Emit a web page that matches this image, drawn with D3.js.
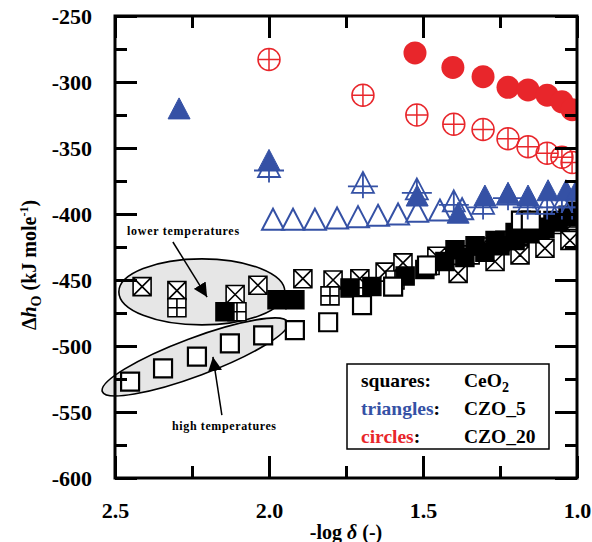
<!DOCTYPE html>
<html>
<head>
<meta charset="utf-8">
<script src="https://cdn.jsdelivr.net/npm/d3@7"></script>
<style>
  html, body { margin: 0; padding: 0; background: #fff; }
  svg text { font-family: "Liberation Serif", "Times New Roman", Times, serif !important; }
</style>
</head>
<body>
<svg id="chart" width="592" height="542"></svg>
<script>
// ---------------- data ----------------
const xMajorTicks = [2.5, 2.0, 1.5, 1.0];
const xMinorTicks = [2.25, 1.75, 1.25];
const yMajorTicks = [-600, -550, -500, -450, -400, -350, -300, -250];
const yMinorTicks = [-575, -525, -475, -425, -375, -325, -275];

// circles: CZO_20
const circFilledX = [1.526, 1.403, 1.305, 1.224, 1.159, 1.097, 1.049, 1.016];
const circFilledY = [-278, -289, -296, -304, -306, -310, -315, -321];
const circCrossX = [2.0, 1.695, 1.52, 1.40, 1.305, 1.224, 1.159, 1.097, 1.049, 1.016];
const circCrossY = [-283, -310, -325, -332, -336, -343, -349, -354, -357, -361];

// triangles: CZO_5
const triFilledX = [2.292, 2.0, 1.519, 1.386, 1.299, 1.224, 1.159, 1.094, 1.036, 1.0];
const triFilledY = [-320, -359, -386, -399, -386, -384, -386, -382, -382, -381];
const triCrossX = [2.0, 1.695, 1.52, 1.40, 1.305, 1.224, 1.16, 1.097, 1.049, 1.016];
const triCrossY = [-364, -376, -381, -390, -392, -385, -392, -392, -392, -392];
const triOpenX = [1.987, 1.922, 1.851, 1.779, 1.711, 1.646, 1.581, 1.519, 1.445, 1.373];
const triOpenY = [-404, -404, -404, -403, -402, -401, -400, -398, -397, -396];

// squares: CeO2
const sqOpenX = [2.451, 2.344, 2.234, 2.127, 2.019, 1.916, 1.808, 1.698, 1.597, 1.487, 1.182, 1.150];
const sqOpenY = [-527, -517, -508, -498, -492, -488, -482, -469, -455, -439, -405, -405];
const sqCrossX = [2.412, 2.299, 2.110, 2.036, 1.890, 1.792, 1.705, 1.623, 1.565, 1.455, 1.315, 1.25, 1.185, 1.12, 1.055, 1.006,
                  1.386, 1.266, 1.185, 1.104, 1.023];
const sqCrossY = [-455, -458, -461, -454, -449, -450, -449, -444, -437, -432, -425, -421, -416, -412, -408, -405,
                  -445, -436, -431, -426, -420];
const sqPlusX = [2.299, 2.104, 1.802, 1.591, 1.477, 1.347, 1.234, 1.12, 1.023];
const sqPlusY = [-471, -474, -462, -450, -439, -431, -420, -411, -403];
const sqFilledX = [2.143, 1.974, 1.916, 1.737, 1.666, 1.558, 1.494, 1.429, 1.364, 1.299, 1.25, 1.201, 1.153, 1.104, 1.062, 1.023,
                   1.396, 1.331, 1.266, 1.201, 1.136, 1.078, 1.029, 1.0];
const sqFilledY = [-474, -465, -465, -456, -455, -447, -442, -436, -433, -429, -424, -420, -415, -411, -406, -402,
                   -427, -424, -420, -414, -410, -405, -401, -398];

const legendLabels = ["squares", "triangles", "circles"];
const legendSamples = ["CeO", "CZO_5", "CZO_20"];

// ---------------- setup ----------------
const FONT = "'Liberation Serif', 'Times New Roman', Times, serif";
const RED = "#e8262b", BLUE = "#3551a5", BLACK = "#000";
const svg = d3.select("#chart");
const L = 115, R = 577, T = 16, B = 478;
const x = d3.scaleLinear().domain([2.5, 1.0]).range([L, R]);
const y = d3.scaleLinear().domain([-600, -250]).range([B, T]);

const defs = svg.append("defs");
defs.append("clipPath").attr("id", "plotclip")
  .append("rect").attr("x", L).attr("y", T).attr("width", R - L).attr("height", B - T);
defs.append("marker").attr("id", "ah")
  .attr("viewBox", "0 0 10 10").attr("refX", 10).attr("refY", 5)
  .attr("markerWidth", 14).attr("markerHeight", 14).attr("markerUnits", "userSpaceOnUse")
  .attr("orient", "auto")
  .append("path").attr("d", "M0,0L10,5L0,10Z").attr("fill", "#000");

// ---------------- annotations (behind markers) ----------------
const ann = svg.append("g");
ann.append("ellipse")
  .attr("cx", x(2.218)).attr("cy", y(-459)).attr("rx", 83).attr("ry", 33)
  .attr("fill", "#e6e6e6").attr("stroke", "#000").attr("stroke-width", 1.6);
ann.append("ellipse")
  .attr("transform", `translate(${x(2.24)},${y(-508.3)}) rotate(-20.5)`)
  .attr("rx", 99).attr("ry", 19)
  .attr("fill", "#e6e6e6").attr("stroke", "#000").attr("stroke-width", 1.6);

// ---------------- markers ----------------
const plot = svg.append("g").attr("clip-path", "url(#plotclip)");
const pts = (xs, ys) => xs.map((v, i) => [v, ys[i]]);

function drawSet(data, d, style) {
  const sel = plot.append("g").selectAll("path").data(data).join("path")
    .attr("transform", p => `translate(${x(p[0])},${y(p[1])})`)
    .attr("d", d);
  Object.entries(style).forEach(([k, v]) => sel.attr(k, v));
}
const h = 9;
const sq = `M${-h},${-h}H${h}V${h}H${-h}Z`;
const sqX = sq + `M${-h},${-h}L${h},${h}M${h},${-h}L${-h},${h}`;
const sqP = sq + `M0,${-h}V${h}M${-h},0H${h}`;
const tri = "M0,-10.5L11,10.5L-11,10.5Z";
const triC = tri + "M-15,4H15M0,-10.5V16";
const cr = 11;
const circ = `M${cr},0A${cr},${cr} 0 1,1 ${-cr},0A${cr},${cr} 0 1,1 ${cr},0Z`;
const circC = circ + `M${-cr},0H${cr}M0,${-cr}V${cr}`;
const cf = 11.5;
const circF = `M${cf},0A${cf},${cf} 0 1,1 ${-cf},0A${cf},${cf} 0 1,1 ${cf},0Z`;

// squares
drawSet(pts(sqCrossX, sqCrossY), sqX, {fill: "#fff", stroke: BLACK, "stroke-width": 1.6});
drawSet(pts(sqPlusX, sqPlusY), sqP, {fill: "#fff", stroke: BLACK, "stroke-width": 1.6});
drawSet(pts(sqFilledX, sqFilledY), sq, {fill: BLACK, stroke: BLACK, "stroke-width": 1.5});
drawSet(pts(sqOpenX, sqOpenY), sq, {fill: "#fff", stroke: BLACK, "stroke-width": 2.2});
// triangles
drawSet(pts(triOpenX, triOpenY), tri, {fill: "#fff", stroke: BLUE, "stroke-width": 2});
drawSet(pts(triCrossX, triCrossY), triC, {fill: "none", stroke: BLUE, "stroke-width": 1.8});
drawSet(pts(triFilledX, triFilledY), tri, {fill: BLUE, stroke: BLUE, "stroke-width": 1});
// circles
drawSet(pts(circCrossX, circCrossY), circC, {fill: "none", stroke: RED, "stroke-width": 1.5});
drawSet(pts(circFilledX, circFilledY), circF, {fill: RED, stroke: "none"});

// arrows + labels
const annTop = svg.append("g");
annTop.append("line")
  .attr("x1", x(2.312)).attr("y1", y(-421.2)).attr("x2", x(2.201)).attr("y2", y(-462.9))
  .attr("stroke", "#000").attr("stroke-width", 1.5).attr("marker-end", "url(#ah)");
annTop.append("line")
  .attr("x1", x(2.153)).attr("y1", y(-552.3)).attr("x2", x(2.182)).attr("y2", y(-508.3))
  .attr("stroke", "#000").attr("stroke-width", 1.5).attr("marker-end", "url(#ah)");
annTop.append("text").attr("x", x(2.279)).attr("y", y(-412.9) + 4)
  .attr("font-family", FONT)
  .attr("text-anchor", "middle").attr("font-size", 12).attr("font-weight", "bold")
  .attr("textLength", 112).attr("lengthAdjust", "spacing")
  .text("lower temperatures");
annTop.append("text").attr("x", x(2.146)).attr("y", y(-560.6) + 4)
  .attr("font-family", FONT)
  .attr("text-anchor", "middle").attr("font-size", 12).attr("font-weight", "bold")
  .attr("textLength", 104).attr("lengthAdjust", "spacing")
  .text("high temperatures");

// ---------------- axes ----------------
const axG = svg.append("g");
function styleAxis(g) {
  g.attr("font-family", FONT);
  g.select(".domain").remove();
  g.selectAll(".tick line").attr("stroke", "#000").attr("stroke-width", 3);
}
const fmtY = d => String(d);
const fmtX = d => d.toFixed(1);
axG.append("g").attr("transform", `translate(0,${B})`)
  .call(d3.axisBottom(x).tickValues(xMajorTicks).tickSize(-22).tickPadding(24).tickFormat(fmtX))
  .call(styleAxis);
axG.append("g").attr("transform", `translate(0,${B})`)
  .call(d3.axisBottom(x).tickValues(xMinorTicks).tickSize(-12).tickFormat(""))
  .call(styleAxis);
axG.append("g").attr("transform", `translate(0,${T})`)
  .call(d3.axisTop(x).tickValues(xMajorTicks).tickSize(-22).tickFormat(""))
  .call(styleAxis);
axG.append("g").attr("transform", `translate(0,${T})`)
  .call(d3.axisTop(x).tickValues(xMinorTicks).tickSize(-12).tickFormat(""))
  .call(styleAxis);
axG.append("g").attr("transform", `translate(${L},0)`)
  .call(d3.axisLeft(y).tickValues(yMajorTicks).tickSize(-22).tickPadding(23).tickFormat(fmtY))
  .call(styleAxis);
axG.append("g").attr("transform", `translate(${L},0)`)
  .call(d3.axisLeft(y).tickValues(yMinorTicks).tickSize(-12).tickFormat(""))
  .call(styleAxis);
axG.append("g").attr("transform", `translate(${R},0)`)
  .call(d3.axisRight(y).tickValues(yMajorTicks).tickSize(-22).tickFormat(""))
  .call(styleAxis);
axG.append("g").attr("transform", `translate(${R},0)`)
  .call(d3.axisRight(y).tickValues(yMinorTicks).tickSize(-12).tickFormat(""))
  .call(styleAxis);
axG.selectAll(".tick text")
  .attr("font-family", FONT)
  .attr("font-size", 22).attr("font-weight", "bold").attr("fill", "#000");

axG.append("rect").attr("x", L).attr("y", T).attr("width", R - L).attr("height", B - T)
  .attr("fill", "none").attr("stroke", "#000").attr("stroke-width", 3);

// axis titles
const xt = svg.append("text").attr("x", 346).attr("y", 539).attr("font-family", FONT)
  .attr("text-anchor", "middle").attr("font-size", 20).attr("font-weight", "bold");
xt.append("tspan").text("-log ");
xt.append("tspan").attr("font-style", "italic").text("δ");
xt.append("tspan").text(" (-)");

const yt = svg.append("text").attr("transform", "translate(36,265) rotate(-90)").attr("font-family", FONT)
  .attr("text-anchor", "middle").attr("font-size", 20).attr("font-weight", "bold");
yt.append("tspan").text("Δ");
yt.append("tspan").attr("font-style", "italic").text("h");
yt.append("tspan").attr("font-size", 14).attr("dy", 5).text("O");
yt.append("tspan").attr("dy", -5).text(" (kJ mole");
yt.append("tspan").attr("font-size", 12).attr("dy", -8).text("-1");
yt.append("tspan").attr("dy", 8).text(")");

// ---------------- legend ----------------
const lg = svg.append("g").attr("font-family", FONT);
lg.append("rect").attr("x", 347).attr("y", 364).attr("width", 202).attr("height", 85)
  .attr("fill", "#fff").attr("stroke", "#000").attr("stroke-width", 1.5);
const legColors = [BLACK, BLUE, RED];
legendLabels.forEach((lab, i) => {
  const yy = 387 + i * 28;
  const t = lg.append("text").attr("x", 361).attr("y", yy)
    .attr("font-size", 19.5).attr("font-weight", "bold");
  t.append("tspan").attr("fill", legColors[i]).text(lab);
  t.append("tspan").attr("fill", "#000").text(":");
  const s = lg.append("text").attr("x", 464).attr("y", yy)
    .attr("font-size", 19.5).attr("font-weight", "bold").attr("fill", "#000");
  s.append("tspan").text(legendSamples[i]);
  if (i === 0) s.append("tspan").attr("font-size", 14).attr("dy", 5).text("2");
});
</script>
</body>
</html>
